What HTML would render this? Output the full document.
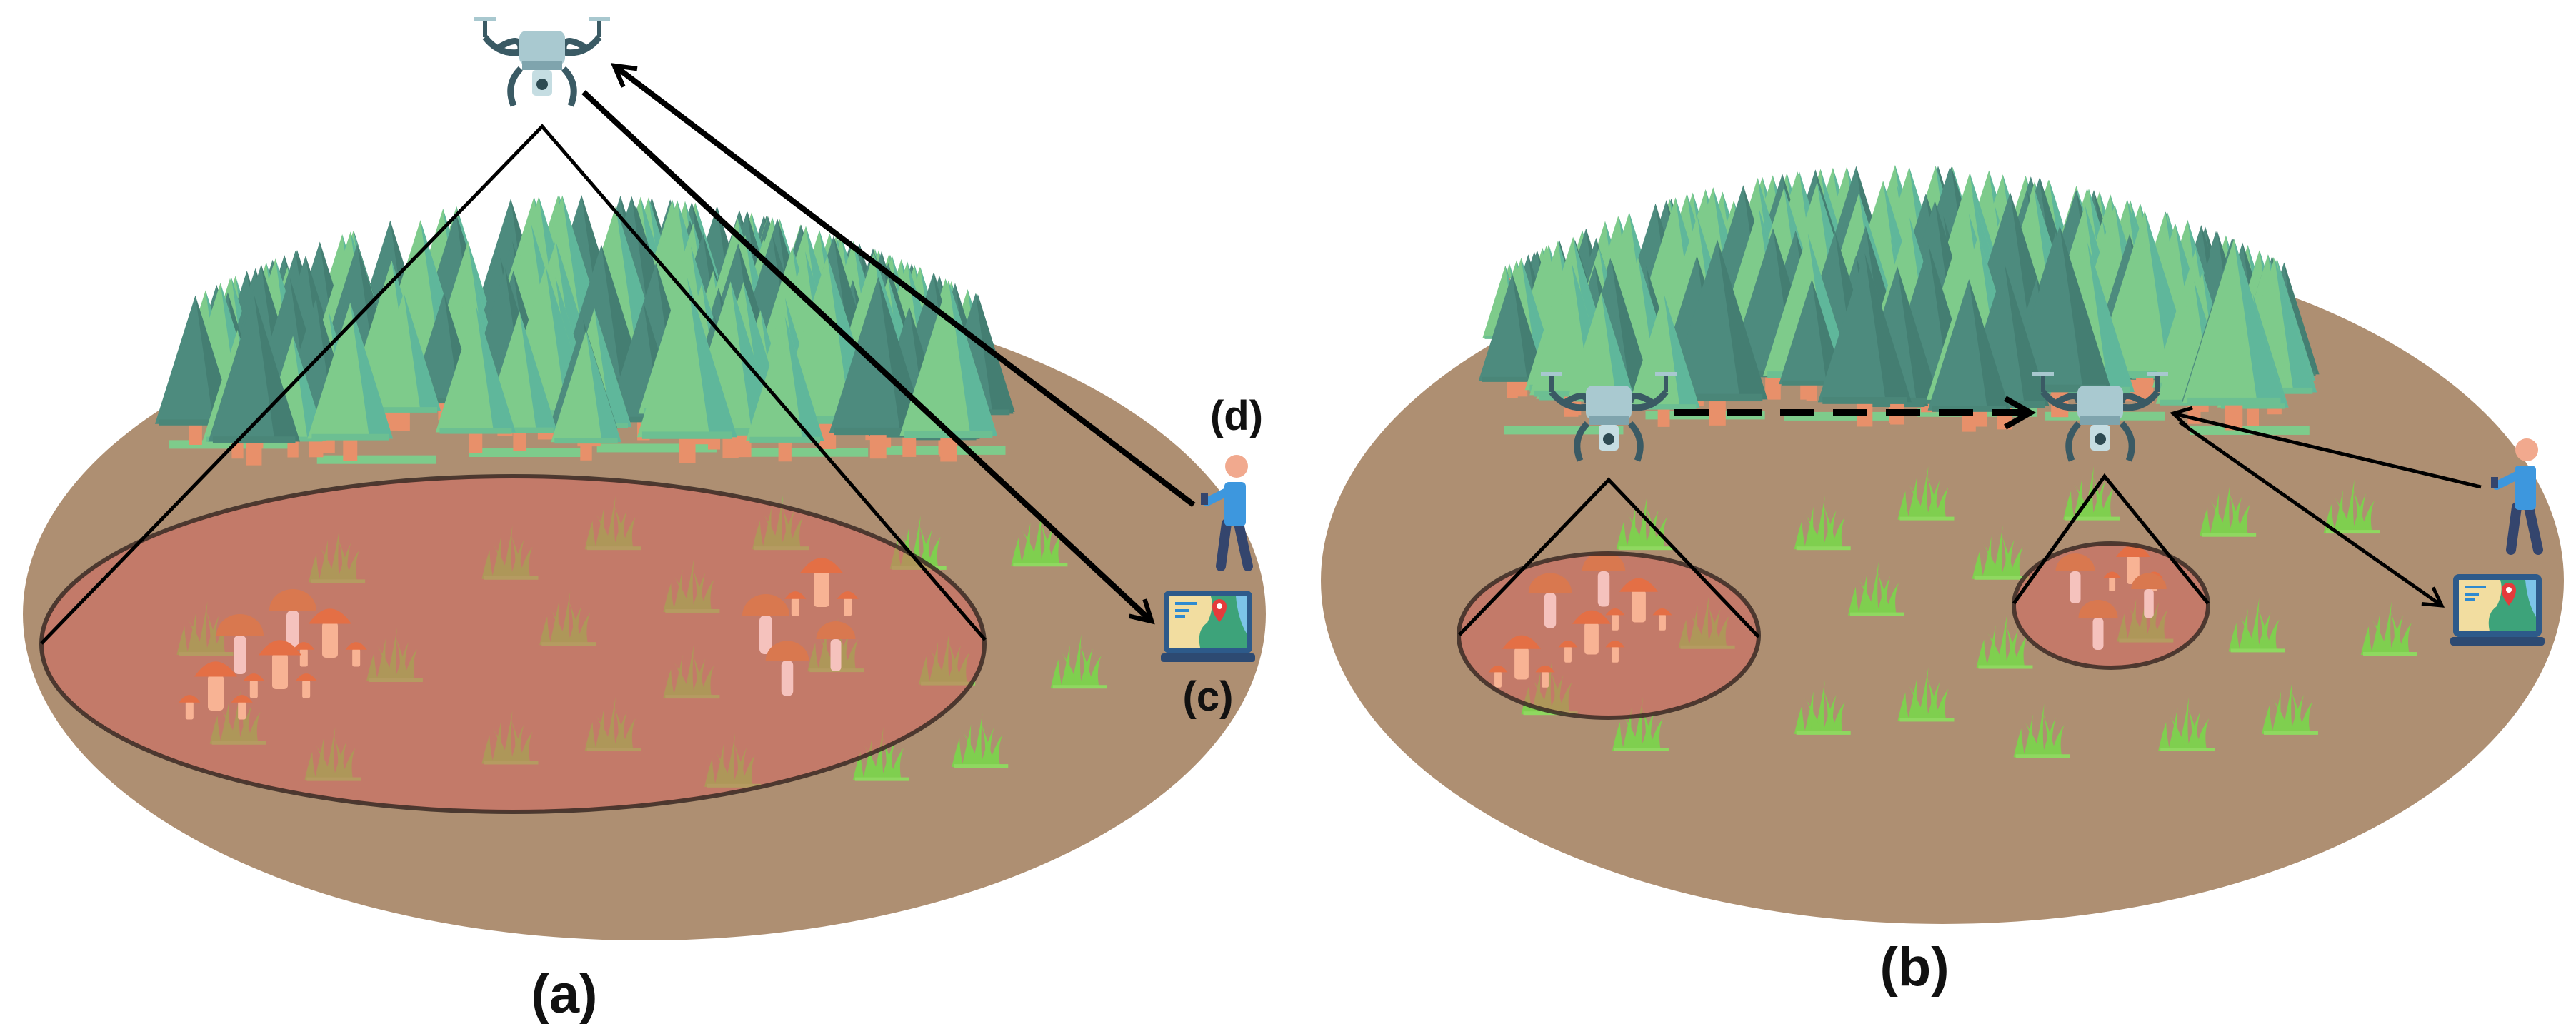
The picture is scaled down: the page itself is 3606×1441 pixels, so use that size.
<!DOCTYPE html>
<html><head><meta charset="utf-8"><style>
html,body{margin:0;padding:0;background:#fff;width:3606px;height:1441px;overflow:hidden}
svg{display:block}
text{font-family:"Liberation Sans",sans-serif;font-weight:bold;fill:#111}
</style></head><body>
<svg id="s" width="3606" height="1441" viewBox="0 0 3606 1441" xmlns="http://www.w3.org/2000/svg">
<defs>
<marker id="ah" viewBox="0 0 10 10" refX="8" refY="5" markerWidth="5" markerHeight="5" orient="auto" markerUnits="strokeWidth">
<path d="M1,1 L8,5 L1,9" fill="none" stroke="#000" stroke-width="1.6"/></marker>
<marker id="ah2" viewBox="0 0 10 10" refX="8" refY="5" markerWidth="7" markerHeight="7" orient="auto" markerUnits="strokeWidth">
<path d="M1,1 L8,5 L1,9" fill="none" stroke="#000" stroke-width="1.4"/></marker>
</defs>
<ellipse cx="902" cy="860" rx="870" ry="457" fill="#ae8f72"/>
<ellipse cx="2719" cy="813" rx="870" ry="481" fill="#ae8f72"/>
<g id="forestL"></g><g id="forestR"></g>
<g id="grass"></g>
<ellipse cx="718" cy="902" rx="660" ry="235" fill="#d56a63" fill-opacity="0.55"/>
<ellipse cx="2252" cy="890" rx="210" ry="115" fill="#d56a63" fill-opacity="0.55"/>
<ellipse cx="2955" cy="848" rx="136" ry="87" fill="#d56a63" fill-opacity="0.55"/>
<g id="mush"></g>
<g fill="none" stroke="#3a2a25" stroke-width="6" stroke-opacity="0.85">
<ellipse cx="718" cy="902" rx="660" ry="235"/>
<ellipse cx="2252" cy="890" rx="210" ry="115"/>
<ellipse cx="2955" cy="848" rx="136" ry="87"/>
</g>
<g fill="none" stroke="#000" stroke-width="5">
<polyline points="58,901 759,177 1379,896"/>
<polyline points="2043,889 2252,672 2462,892"/>
<polyline points="2819,845 2946,667 3091,845"/>
</g>
<g id="drones"></g>
<g fill="none" stroke="#000">
<line x1="1671" y1="707" x2="860" y2="92" stroke-width="8" marker-end="url(#ah)"/>
<line x1="817" y1="129" x2="1612" y2="870" stroke-width="8" marker-end="url(#ah)"/>
<line x1="2344" y1="578" x2="2842" y2="578" stroke-width="10" stroke-dasharray="48,26" marker-end="url(#ah)"/>
<line x1="3473" y1="682" x2="3042" y2="579" stroke-width="5" marker-end="url(#ah2)"/>
<line x1="3051" y1="591" x2="3418" y2="848" stroke-width="5" marker-end="url(#ah2)"/>
</g>
<g id="ppl"></g>
<text x="1731" y="602" font-size="58" text-anchor="middle">(d)</text>
<text x="1691" y="995" font-size="58" text-anchor="middle">(c)</text>
<text x="790" y="1418" font-size="76" text-anchor="middle">(a)</text>
<text x="2680" y="1380" font-size="76" text-anchor="middle">(b)</text>
</svg>
<script>
var NS="http://www.w3.org/2000/svg";
function el(p,t,a){var e=document.createElementNS(NS,t);for(var k in a)e.setAttribute(k,a[k]);p.appendChild(e);return e;}
var seed=7;function rnd(){seed=(seed*16807)%2147483647;return (seed-1)/2147483646;}
function tree(g,x,by,h,dark){
  var w=h*0.27;
  el(g,'rect',{x:x-h*0.045,y:by-h*0.16,width:h*0.09,height:h*0.16,fill:'#e8906a'});
  var c1=dark?'#4d8b7e':'#7ecb8b',c2=dark?'#447e72':'#5fb79b';
  el(g,'polygon',{points:[x,by-h,x+w,by-h*0.14,x-w,by-h*0.14].join(' '),fill:c1});
  el(g,'polygon',{points:[x,by-h,x+w,by-h*0.14,x+w*0.45,by-h*0.14].join(' '),fill:c2});
  el(g,'rect',{x:x-w*0.9,y:by-h*0.17,width:w*1.8,height:h*0.04,fill:dark?'#4a8678':'#6cbf92'});
}
function forest(id,x0,x1,topY,baseY,n){
  var g=document.getElementById(id),arr=[];
  for(var j=0;j<6;j++){var sx=x0+j*(x1-x0)/6+rnd()*40;el(g,'rect',{x:sx,y:baseY-8-rnd()*30,width:(x1-x0)/7,height:12,fill:'#7ecb8b'});}
  for(var i=0;i<n;i++){
    var x=x0+35+rnd()*(x1-x0-70);
    var mid=(x0+x1)/2,d=Math.abs(x-mid)/((x1-x0)/2);
    var by=baseY-rnd()*220;
    var h=170+rnd()*110;
    var topLim=topY+d*d*160;
    if(by-h<topLim) h=by-topLim;
    arr.push([x,by,h,rnd()<0.45]);
  }
  arr.sort(function(a,b){return a[1]-b[1];});
  arr.forEach(function(t){tree(g,t[0],t[1],t[2],t[3]);});
}
forest('forestL',237,1408,273,652,170);
forest('forestR',2072,3242,231,605,170);
var gg=document.getElementById('grass');
function grass(x,y){
  var pts=[[-34,0,-30,-40],[-20,0,-14,-60],[-6,0,2,-75],[6,0,18,-55],[18,0,30,-45],[-12,0,-26,-50],[10,0,0,-62]];
  pts.forEach(function(p){el(gg,'path',{d:'M'+(x+p[0]-7)+','+y+' Q'+(x+p[0])+','+(y-30)+' '+(x+p[2])+','+(y+p[3])+' Q'+(x+p[0]+4)+','+(y-25)+' '+(x+p[0]+9)+','+y+'Z',fill:'#7fcf4f'});});
  el(gg,'rect',{x:x-38,y:y-4,width:76,height:5,fill:'#8fd860'});
}
var gl=[[410,850],[620,845],[745,800],[948,800],[1115,830],[1262,825],[840,895],[690,945],[480,1000],[1310,1010],[840,1025],[1015,985],[1150,1005],[290,1095],[405,1150],[620,1125],[745,1105],[890,1160],[1070,1150],[1190,1130],[250,960]];
gl.forEach(function(p){grass(p[0]*1.154,p[1]*0.924+30);});
var gr=[[435,800],[650,800],[775,755],[865,845],[715,900],[975,755],[1140,780],[1290,775],[1175,955],[1335,960],[870,980],[650,1080],[775,1060],[430,1105],[320,1050],[915,1115],[1090,1105],[1215,1080],[510,950],[1040,940]];
gr.forEach(function(p){grass(1800+p[0]*1.158,p[1]*0.924+30);});
var mg=document.getElementById('mush');
function m1(x,y,s){
  [[-22,18,0.5],[22,18,0.5],[0,0,1]].forEach(function(q){var k=s*q[2],cx=x+q[0]*s/30,cy=y+q[1]*s/30;
    el(mg,'rect',{x:cx-k*0.22,y:cy-k*0.3,width:k*0.44,height:k*1.0,rx:k*0.1,fill:'#f8b394'});
    el(mg,'path',{d:'M'+(cx-k*0.6)+','+(cy-k*0.25)+' Q'+cx+','+(cy-k*1.1)+' '+(cx+k*0.6)+','+(cy-k*0.25)+'Z',fill:'#e46f45'});});
}
function m2(x,y,s){
  el(mg,'rect',{x:x-s*0.15,y:y,width:s*0.3,height:s*0.9,rx:s*0.12,fill:'#f5c2bd'});
  el(mg,'path',{d:'M'+(x-s*0.55)+','+y+' A'+s*0.55+','+s*0.5+' 0 0 1 '+(x+s*0.55)+','+y+'Z',fill:'#d9784f'});
}
m2(410,855,60);m2(336,890,60);m1(462,886,50);m1(392,930,50);m1(302,960,50);
m2(1072,862,60);m2(1102,925,55);m1(1150,815,50);m2(1170,895,50);
m2(2245,800,55);m2(2170,830,55);m1(2294,840,45);m1(2228,885,45);m1(2130,920,45);
m2(2905,800,50);m2(2937,865,50);m1(2986,790,40);m2(3008,825,45);
var dg=document.getElementById('drones');
function drone(x,y,s){
  var g=el(dg,'g',{transform:'translate('+x+','+y+') scale('+s+')'});
  el(g,'path',{d:'M-60,48 Q-30,30 -30,50 M60,48 Q30,30 30,50',stroke:'#3a5a64','stroke-width':9,fill:'none'});
  el(g,'line',{x1:-80,y1:12,x2:-80,y2:34,stroke:'#3a5a64','stroke-width':6});
  el(g,'line',{x1:80,y1:12,x2:80,y2:34,stroke:'#3a5a64','stroke-width':6});
  el(g,'rect',{x:-95,y:6,width:30,height:6,fill:'#a8c8cf'});el(g,'rect',{x:65,y:6,width:30,height:6,fill:'#a8c8cf'});
  el(g,'path',{d:'M-80,34 Q-60,60 -30,55 M80,34 Q60,60 30,55',stroke:'#3a5a64','stroke-width':9,fill:'none'});
  el(g,'rect',{x:-32,y:25,width:64,height:48,rx:10,fill:'#a9c9d0'});
  el(g,'rect',{x:-28,y:68,width:56,height:12,fill:'#7fa4ad'});
  el(g,'path',{d:'M-30,78 Q-52,100 -40,130 M30,78 Q52,100 40,130',stroke:'#3a5a64','stroke-width':9,fill:'none'});
  el(g,'rect',{x:-14,y:80,width:28,height:36,rx:5,fill:'#c5dde2'});
  el(g,'circle',{cx:0,cy:100,r:8,fill:'#2d4a52'});
}
drone(759,18,1);drone(2252,515,1);drone(2940,515,1);
var pg=document.getElementById('ppl');
function person(x,y){
  var g=el(pg,'g',{transform:'translate('+x+','+y+')'});
  el(g,'path',{d:'M38,100 L30,160 M55,100 L68,160',stroke:'#34456d','stroke-width':14,fill:'none','stroke-linecap':'round'});
  el(g,'rect',{x:35,y:42,width:30,height:62,rx:6,fill:'#3d97de'});
  el(g,'path',{d:'M40,55 L10,70',stroke:'#3d97de','stroke-width':12,'stroke-linecap':'round'});
  el(g,'circle',{cx:52,cy:20,r:16,fill:'#f1a98e'});
  el(g,'rect',{x:2,y:58,width:10,height:16,fill:'#34456d'});
}
person(1679,633);person(3485,610);
function laptop(x,y){
  var g=el(pg,'g',{transform:'translate('+x+','+y+')'});
  el(g,'rect',{x:4,y:0,width:124,height:88,rx:8,fill:'#2d5a8a'});
  el(g,'rect',{x:12,y:8,width:108,height:72,fill:'#f2dda0'});
  el(g,'path',{d:'M70,8 L120,8 L120,80 L55,80 Q50,55 65,45 Q75,25 70,8Z',fill:'#3da37a'});
  el(g,'path',{d:'M105,8 L120,8 L120,60 Q108,40 105,8Z',fill:'#7cc4e8'});
  el(g,'path',{d:'M20,18 L50,18 M20,28 L40,28 M20,36 L34,36',stroke:'#2e8ad0','stroke-width':4});
  el(g,'path',{d:'M72,22 a10,10 0 1 1 20,0 q0,10 -10,22 q-10,-12 -10,-22z',fill:'#e53b3b'});
  el(g,'circle',{cx:82,cy:22,r:4,fill:'#fff'});
  el(g,'rect',{x:0,y:88,width:132,height:12,rx:4,fill:'#2d4a72'});
}
laptop(1625,827);laptop(3430,804);
</script>
</body></html>
